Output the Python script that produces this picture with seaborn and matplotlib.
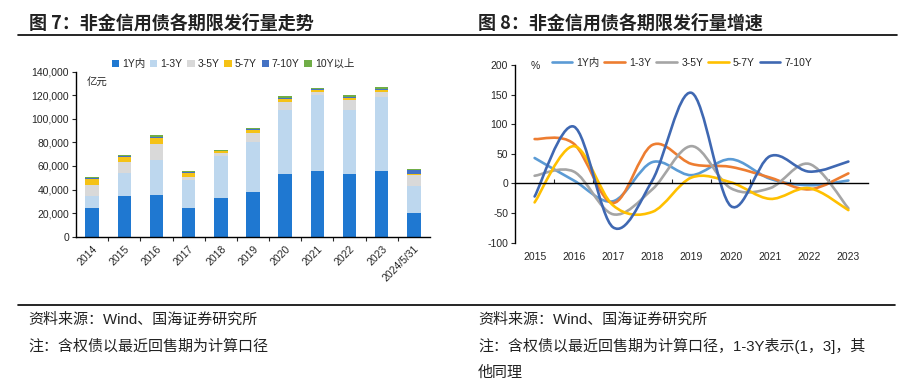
import numpy as np
import matplotlib
matplotlib.use("Agg")
import matplotlib.pyplot as plt
from matplotlib.path import Path
from matplotlib.patches import PathPatch, Patch
from matplotlib.lines import Line2D
from matplotlib.ticker import FuncFormatter
import seaborn as sns

# dados do grafico 7 (亿元)
anos_esq = ['2014', '2015', '2016', '2017', '2018', '2019', '2020', '2021', '2022', '2023', '2024/5/31']
v_1y = [24000, 34800, 35600, 24000, 33100, 37600, 52900, 56000, 53200, 56000, 20400]
v_1_3 = [10800, 18900, 29400, 24500, 35300, 43000, 54600, 64200, 54300, 62800, 22600]
v_3_5 = [9000, 9900, 13300, 1800, 2900, 7100, 7000, 2800, 8500, 4200, 9300]
v_5_7 = [5000, 3700, 5100, 4000, 1100, 2800, 2300, 1400, 2000, 1400, 900]
v_7_10 = [1000, 1100, 1400, 500, 600, 1100, 1100, 900, 900, 900, 3400]
v_10 = [1200, 600, 1200, 600, 500, 900, 1100, 1100, 1100, 1400, 500]
nomes_esq = ['1Y内', '1-3Y', '3-5Y', '5-7Y', '7-10Y', '10Y以上']
cores_esq = ['#1F78D1', '#BDD7EE', '#D9D9D9', '#F5C216', '#4472C4', '#70AD47']

# dados do grafico 8 (%)
anos_dir = ['2015', '2016', '2017', '2018', '2019', '2020', '2021', '2022', '2023']
g_1y = [43, 5, -30, 36, 14, 41, 8, -3, 5]
g_1_3 = [75, 67, -33, 65, 33, 28, 10, -10, 17]
g_3_5 = [13, 20, -52, -10, 63, -8, -8, 33, -42]
g_5_7 = [-32, 63, -37, -48, 10, 2, -26, -8, -45]
g_7_10 = [-22, 96, -74, 5, 153, -38, 46, 20, 37]
nomes_dir = ['1Y内', '1-3Y', '3-5Y', '5-7Y', '7-10Y']
cores_dir = ['#5B9BD5', '#ED7D31', '#A5A5A5', '#FFC000', '#3F68B2']

sns.set_style("white")
plt.rcParams['font.family'] = ['Liberation Sans', 'Noto Sans CJK SC']
plt.rcParams['axes.unicode_minus'] = False

fig = plt.figure(figsize=(9.19, 3.87), dpi=100)
W, H = 919, 387


def caixa(x0, x1, ytop, ybot):
    return [x0 / W, 1 - ybot / H, (x1 - x0) / W, (ybot - ytop) / H]


# ---------- grafico 7: barras empilhadas ----------
ax = fig.add_axes(caixa(76, 430, 71.7, 236.7))
camadas = [v_1y, v_1_3, v_3_5, v_5_7, v_7_10, v_10]
acum = np.cumsum(np.array(camadas), axis=0)
for i in range(len(camadas) - 1, -1, -1):
    sns.barplot(x=anos_esq, y=acum[i], color=cores_esq[i], saturation=1,
                width=0.42, linewidth=0, ax=ax)
ax.set_xlim(-0.5, 10.5)
ax.set_ylim(0, 140000)
ax.set_yticks(np.arange(0, 140001, 20000))
ax.yaxis.set_major_formatter(FuncFormatter(lambda v, p: f'{v:,.0f}'))
ax.set_xticks(range(len(anos_esq)))
ax.set_xticklabels(anos_esq, rotation=45, ha='right', rotation_mode='anchor')
ax.set_xticks(np.arange(0.5, 10, 1), minor=True)
ax.tick_params(axis='x', which='major', length=0, pad=5, labelsize=7.5)
ax.tick_params(axis='x', which='minor', length=3, width=0.8, direction='out', bottom=True)
ax.tick_params(axis='y', length=3, width=0.8, direction='out', left=True, labelsize=7.5, pad=2)
for s in ['top', 'right']:
    ax.spines[s].set_visible(False)
for s in ['left', 'bottom']:
    ax.spines[s].set_color('black')
    ax.spines[s].set_linewidth(1)
ax.set_xlabel('')
ax.set_ylabel('')
ax.text(0.03, 0.93, '亿元', transform=ax.transAxes, fontsize=7.5, va='center')

alcas = [Patch(facecolor=c, edgecolor='none') for c in cores_esq]
fig.legend(alcas, nomes_esq, loc='center', bbox_to_anchor=(233 / W, 1 - 64 / H),
           ncol=6, frameon=False, fontsize=7.5, handlelength=0.7, handleheight=0.7,
           handletextpad=0.3, columnspacing=0.45, borderpad=0)

# ---------- grafico 8: linhas suavizadas ----------
ax2 = fig.add_axes(caixa(515, 868, 65, 242.7))


def caminho_suave(xs, ys):
    pts = np.column_stack([xs, ys]).astype(float)
    verts = [pts[0]]
    codes = [Path.MOVETO]
    n = len(pts)
    for i in range(n - 1):
        p0 = pts[i - 1] if i > 0 else pts[i]
        p3 = pts[i + 2] if i + 2 < n else pts[i + 1]
        c1 = pts[i] + (pts[i + 1] - p0) / 6
        c2 = pts[i + 1] - (p3 - pts[i]) / 6
        verts += [c1, c2, pts[i + 1]]
        codes += [Path.CURVE4] * 3
    return Path(verts, codes)


series = [g_1y, g_1_3, g_3_5, g_5_7, g_7_10]
xs = np.arange(len(anos_dir))
for serie, cor in zip(series, cores_dir):
    ax2.add_patch(PathPatch(caminho_suave(xs, serie), fill=False, edgecolor=cor,
                            linewidth=1.9, capstyle='round', joinstyle='round'))

ax2.set_xlim(-0.5, 8.5)
ax2.set_ylim(-100, 200)
ax2.set_yticks(np.arange(-100, 201, 50))
ax2.tick_params(axis='y', length=3, width=0.8, direction='out', left=True, labelsize=7.5, pad=2)
ax2.spines['bottom'].set_position(('data', 0))
ax2.set_xticks(xs)
ax2.set_xticklabels([])
ax2.set_xticks(np.arange(0.5, 8, 1), minor=True)
ax2.tick_params(axis='x', which='major', length=0)
ax2.tick_params(axis='x', which='minor', length=3, width=0.8, direction='in', bottom=True)
for s in ['top', 'right']:
    ax2.spines[s].set_visible(False)
for s in ['left', 'bottom']:
    ax2.spines[s].set_color('black')
    ax2.spines[s].set_linewidth(1)

sec = ax2.secondary_xaxis('bottom')
sec.set_xticks(xs, labels=anos_dir)
sec.tick_params(length=0, labelsize=7.5, pad=7)
sec.spines['bottom'].set_visible(False)

fig.text(535 / W, 1 - 66 / H, '%', fontsize=7.5, ha='center', va='center')
alcas2 = [Line2D([0], [0], color=c, linewidth=1.9) for c in cores_dir]
fig.legend(alcas2, nomes_dir, loc='center', bbox_to_anchor=(682 / W, 1 - 63 / H),
           ncol=5, frameon=False, fontsize=7.5, handlelength=2.0,
           handletextpad=0.4, columnspacing=0.45, borderpad=0)

# ---------- titulos, linhas e notas ----------
fonte_tit = ['Noto Sans CJK SC', 'DejaVu Sans']
fig.text(29 / W, 1 - 23 / H, '图 7：非金信用债各期限发行量走势', fontsize=13,
         fontweight='bold', family=fonte_tit, va='center', color='#222222')
fig.text(478 / W, 1 - 23 / H, '图 8：非金信用债各期限发行量增速', fontsize=13,
         fontweight='bold', family=fonte_tit, va='center', color='#222222')
fig.add_artist(Line2D([18 / W, 897 / W], [1 - 35 / H, 1 - 35 / H], color='black', linewidth=1.2))
fig.add_artist(Line2D([18 / W, 895 / W], [1 - 305 / H, 1 - 305 / H], color='black', linewidth=1.2))

fonte_nota = ['Liberation Sans', 'Noto Sans CJK SC']
notas = [
    (28, 320, '资料来源：Wind、国海证券研究所'),
    (28, 346, '注：含权债以最近回售期为计算口径'),
    (478, 320, '资料来源：Wind、国海证券研究所'),
    (478, 346, '注：含权债以最近回售期为计算口径，1-3Y表示(1，3]，其'),
    (478, 373, '他同理'),
]
for x, y, t in notas:
    fig.text(x / W, 1 - y / H, t, fontsize=10.8, family=fonte_nota, va='center', color='#222222')

fig.savefig('out.png', dpi=100)
